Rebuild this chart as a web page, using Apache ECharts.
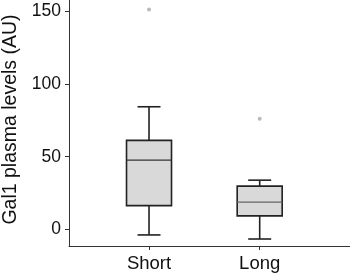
<!DOCTYPE html>
<html>
<head>
<meta charset="utf-8">
<script src="https://cdn.jsdelivr.net/npm/echarts@6/dist/echarts.min.js"></script>
<style>
  html, body { margin: 0; padding: 0; background: #fff; }
  #chart { width: 350px; height: 274px; }
</style>
</head>
<body>
<div id="chart"></div>
<script>
// groups along x
var categories = ['Short', 'Long'];
// box stats per group: [low whisker, Q1, median, Q3, high whisker]
var boxStats = [
    [-3.7, 16.4, 47.6, 61.2, 84.3],
    [-6.5, 9.4, 18.8, 29.8, 33.9]
];
// outliers: [group index, value]
var outliers = [
    [0, 151],
    [1, 76]
];
var yTicks = [0, 50, 100, 150];

var myChart = echarts.init(document.getElementById('chart'));

var boxData = boxStats.map(function (s, i) {
    return [i + 1].concat(s);
});
var outlierData = outliers.map(function (o) {
    return [o[0] + 1, o[1]];
});

var lineColor = '#222';
var medianColors = ['#333', '#666'];

function renderBox(params, api) {
    var x = api.value(0);
    var low = api.coord([x, api.value(1)]);
    var q1 = api.coord([x, api.value(2)]);
    var med = api.coord([x, api.value(3)]);
    var q3 = api.coord([x, api.value(4)]);
    var high = api.coord([x, api.value(5)]);
    var cx = low[0];
    var bw = 45, cw = 23;
    var st = { stroke: lineColor, lineWidth: 1.6, fill: null };
    return {
        type: 'group',
        children: [
            { type: 'line', shape: { x1: cx, y1: q3[1], x2: cx, y2: high[1] }, style: st },
            { type: 'line', shape: { x1: cx, y1: q1[1], x2: cx, y2: low[1] }, style: st },
            { type: 'line', shape: { x1: cx - cw / 2, y1: high[1], x2: cx + cw / 2, y2: high[1] }, style: st },
            { type: 'line', shape: { x1: cx - cw / 2, y1: low[1], x2: cx + cw / 2, y2: low[1] }, style: st },
            { type: 'rect', shape: { x: cx - bw / 2, y: q3[1], width: bw, height: q1[1] - q3[1] },
              style: { fill: '#d9d9d9', stroke: lineColor, lineWidth: 1.6 } },
            { type: 'line', shape: { x1: cx - bw / 2, y1: med[1], x2: cx + bw / 2, y2: med[1] },
              style: { stroke: medianColors[params.dataIndex], lineWidth: 1.3 } }
        ]
    };
}

var option = {
    backgroundColor: '#fff',
    animation: false,
    grid: { left: 69, right: 0, top: 0, bottom: 28, containLabel: false, outerBoundsMode: 'none' },
    xAxis: {
        type: 'value',
        min: 0.277,
        max: 2.816,
        splitLine: { show: false },
        axisLine: { show: true, onZero: false, lineStyle: { color: '#333', width: 1 } },
        axisTick: { show: true, length: 4, customValues: [1, 2], lineStyle: { color: '#333' } },
        axisLabel: {
            customValues: [1, 2],
            margin: 8,
            fontSize: 18.5,
            fontFamily: 'Liberation Sans, Arial, sans-serif',
            color: '#111',
            formatter: function (v) { return categories[Math.round(v) - 1] || ''; }
        }
    },
    yAxis: {
        type: 'value',
        min: -11.3,
        max: 157.6,
        name: 'Gal1 plasma levels (AU)',
        nameLocation: 'middle',
        nameGap: 48,
        nameTextStyle: {
            fontSize: 19.5,
            fontFamily: 'Liberation Sans, Arial, sans-serif',
            color: '#111',
            padding: [0, 0, 0, 7]
        },
        splitLine: { show: false },
        axisLine: { show: true, onZero: false, lineStyle: { color: '#333', width: 1 } },
        axisTick: { show: true, length: 4, customValues: yTicks, lineStyle: { color: '#333' } },
        axisLabel: {
            customValues: yTicks,
            margin: 8,
            fontSize: 17.5,
            fontFamily: 'Liberation Sans, Arial, sans-serif',
            color: '#111'
        }
    },
    series: [
        {
            type: 'custom',
            renderItem: renderBox,
            encode: { x: 0, y: [1, 2, 3, 4, 5] },
            data: boxData,
            silent: true
        },
        {
            type: 'scatter',
            symbolSize: 4,
            itemStyle: { color: '#aaa' },
            data: outlierData,
            silent: true
        }
    ]
};
myChart.setOption(option);
</script>
</body>
</html>
